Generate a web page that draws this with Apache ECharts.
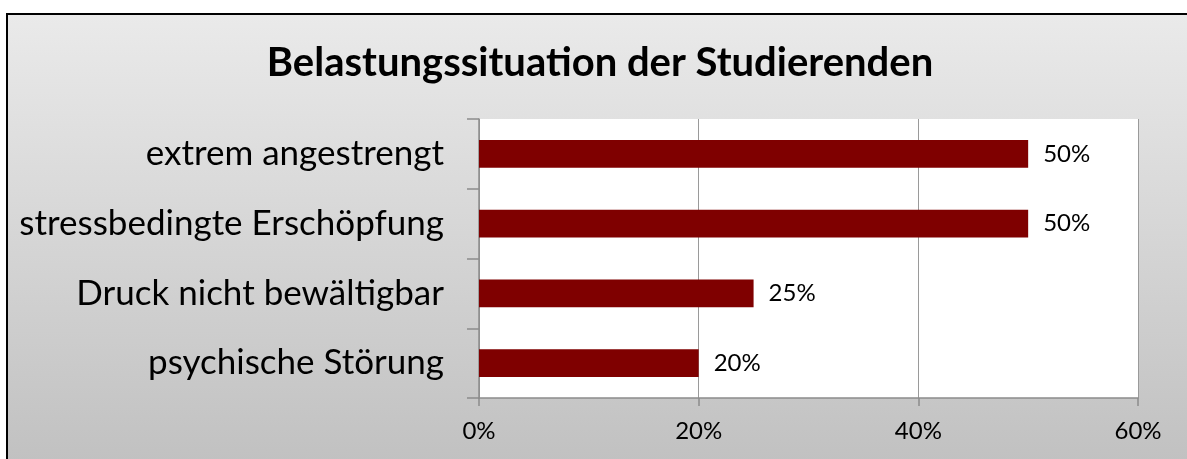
<!DOCTYPE html>
<html>
<head>
<meta charset="utf-8">
<script src="https://cdn.jsdelivr.net/npm/echarts@6/dist/echarts.min.js"></script>
<style>
  html, body { margin: 0; padding: 0; background: #fff; overflow: hidden; }
  #wrap { position: relative; width: 1187px; height: 459px; overflow: hidden; }
  /* Diagrammfläche: Rahmen nur oben und links sichtbar */
  #bg {
    position: absolute; left: 6px; top: 13px; width: 1300px; height: 500px;
    border-left: 2.5px solid #000; border-top: 2.5px solid #000;
    background: linear-gradient(to bottom, #eaeaea 0px, #c1c1c1 446px);
  }
  #chart { position: absolute; left: 0; top: 0; width: 1187px; height: 459px; }
</style>
</head>
<body>
<div id="wrap">
  <div id="bg"></div>
  <div id="chart"></div>
</div>
<script>
  // Daten
  const titleText = "Belastungssituation der Studierenden";
  const categories = ["extrem angestrengt", "stressbedingte Erschöpfung", "Druck nicht bewältigbar", "psychische Störung"];
  const values = [50, 50, 25, 20];
  const axisMax = 60;
  const axisStep = 20;

  const myChart = echarts.init(document.getElementById("chart"));

  const option = {
    animation: false,
    backgroundColor: "transparent",
    textStyle: { fontFamily: "Lato" },
    title: {
      text: titleText,
      left: 595,
      textAlign: "center",
      top: 38,
      textStyle: { fontFamily: "Lato", fontSize: 40, fontWeight: "bold", color: "#000" }
    },
    grid: {
      left: 479,
      top: 119,
      right: 49,
      bottom: 61,
      show: true,
      backgroundColor: "#fff",
      borderWidth: 0
    },
    xAxis: {
      type: "value",
      min: 0,
      max: axisMax,
      interval: axisStep,
      axisLine: { show: true, lineStyle: { color: "#8c8c8c", width: 1.5 } },
      axisTick: { show: true, length: 8, lineStyle: { color: "#8c8c8c", width: 1.5 } },
      axisLabel: { formatter: "{value}%", color: "#000", fontSize: 24, margin: 21 },
      splitLine: { show: true, lineStyle: { color: "#9a9a9a", width: 1 } }
    },
    yAxis: {
      type: "category",
      inverse: true,
      data: categories,
      axisLine: { show: true, lineStyle: { color: "#8c8c8c", width: 1.5 } },
      axisTick: { show: true, length: 12, lineStyle: { color: "#8c8c8c", width: 1.5 } },
      axisLabel: { color: "#000", fontSize: 35, margin: 35 }
    },
    series: [
      {
        type: "bar",
        data: values,
        barWidth: "40%",
        itemStyle: { color: "#7f0000" },
        label: {
          show: true,
          position: "right",
          distance: 15,
          formatter: "{c}%",
          color: "#000",
          fontSize: 24
        }
      }
    ]
  };

  myChart.setOption(option);
</script>
</body>
</html>
